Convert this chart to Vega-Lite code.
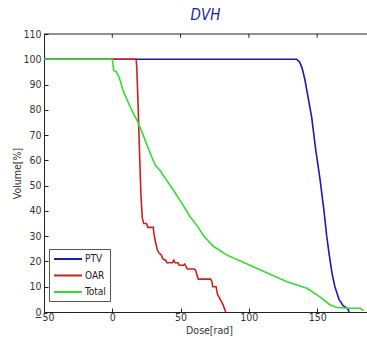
{
  "$schema": "https://vega.github.io/schema/vega-lite/v6.json",
  "autosize": {"type": "none"},
  "width": 323,
  "height": 278,
  "padding": {"left": 44, "top": 34, "right": 0, "bottom": 29},
  "background": "white",
  "title": {"text": "DVH", "color": "#1c1ca0", "font": "DejaVu Sans Condensed, Liberation Sans", "fontSize": 15, "fontStyle": "italic", "fontWeight": "normal", "anchor": "middle", "offset": 6},
  "config": {
    "view": {"stroke": null},
    "axis": {"labelFont": "DejaVu Sans Condensed, Liberation Sans", "titleFont": "DejaVu Sans Condensed, Liberation Sans", "labelFontSize": 10.5, "titleFontSize": 10.5, "titleFontWeight": "normal", "labelColor": "#333", "titleColor": "#333", "domainColor": "#222", "tickColor": "#222", "grid": false, "labelOverlap": false}
  },
  "data": {"values": [
    {"s": "PTV", "x": -50, "y": 100}, {"s": "PTV", "x": 135, "y": 100}, {"s": "PTV", "x": 137, "y": 99}, {"s": "PTV", "x": 139, "y": 96.5}, {"s": "PTV", "x": 141, "y": 92}, {"s": "PTV", "x": 143, "y": 86}, {"s": "PTV", "x": 146, "y": 77}, {"s": "PTV", "x": 149, "y": 64}, {"s": "PTV", "x": 152, "y": 53}, {"s": "PTV", "x": 155, "y": 40}, {"s": "PTV", "x": 157, "y": 30}, {"s": "PTV", "x": 159, "y": 22}, {"s": "PTV", "x": 161, "y": 15}, {"s": "PTV", "x": 163, "y": 10}, {"s": "PTV", "x": 166, "y": 5}, {"s": "PTV", "x": 169, "y": 2.5}, {"s": "PTV", "x": 172, "y": 1.5}, {"s": "PTV", "x": 173.5, "y": 0},
    {"s": "OAR", "x": -50, "y": 100}, {"s": "OAR", "x": 17.5, "y": 100}, {"s": "OAR", "x": 18, "y": 96}, {"s": "OAR", "x": 19, "y": 80}, {"s": "OAR", "x": 20, "y": 62}, {"s": "OAR", "x": 21, "y": 46}, {"s": "OAR", "x": 22, "y": 37}, {"s": "OAR", "x": 23, "y": 35}, {"s": "OAR", "x": 25, "y": 35}, {"s": "OAR", "x": 26, "y": 33.5}, {"s": "OAR", "x": 30, "y": 33.5}, {"s": "OAR", "x": 30.5, "y": 31}, {"s": "OAR", "x": 31.5, "y": 28}, {"s": "OAR", "x": 33, "y": 24.5}, {"s": "OAR", "x": 34, "y": 23.5}, {"s": "OAR", "x": 36, "y": 22.5}, {"s": "OAR", "x": 37, "y": 21}, {"s": "OAR", "x": 39, "y": 20.5}, {"s": "OAR", "x": 40, "y": 19.5}, {"s": "OAR", "x": 44, "y": 19.5}, {"s": "OAR", "x": 45, "y": 20.5}, {"s": "OAR", "x": 46, "y": 19.5}, {"s": "OAR", "x": 48, "y": 19.5}, {"s": "OAR", "x": 49, "y": 18.5}, {"s": "OAR", "x": 52, "y": 18.5}, {"s": "OAR", "x": 53, "y": 19}, {"s": "OAR", "x": 54, "y": 18}, {"s": "OAR", "x": 55, "y": 17}, {"s": "OAR", "x": 60, "y": 17}, {"s": "OAR", "x": 61, "y": 16.5}, {"s": "OAR", "x": 62, "y": 14.5}, {"s": "OAR", "x": 63, "y": 13}, {"s": "OAR", "x": 72, "y": 13}, {"s": "OAR", "x": 73, "y": 12}, {"s": "OAR", "x": 73.5, "y": 10}, {"s": "OAR", "x": 76, "y": 10}, {"s": "OAR", "x": 77, "y": 7}, {"s": "OAR", "x": 79, "y": 5}, {"s": "OAR", "x": 81, "y": 3}, {"s": "OAR", "x": 83, "y": 0},
    {"s": "Total", "x": -50, "y": 100}, {"s": "Total", "x": 0, "y": 100}, {"s": "Total", "x": 1, "y": 95.6}, {"s": "Total", "x": 3, "y": 95}, {"s": "Total", "x": 5, "y": 93}, {"s": "Total", "x": 8, "y": 87.5}, {"s": "Total", "x": 12, "y": 82.5}, {"s": "Total", "x": 15.5, "y": 78.5}, {"s": "Total", "x": 18, "y": 76}, {"s": "Total", "x": 23, "y": 69.5}, {"s": "Total", "x": 28, "y": 62.5}, {"s": "Total", "x": 31.5, "y": 58}, {"s": "Total", "x": 35, "y": 56}, {"s": "Total", "x": 40, "y": 52}, {"s": "Total", "x": 45, "y": 48}, {"s": "Total", "x": 51, "y": 43}, {"s": "Total", "x": 57, "y": 37.7}, {"s": "Total", "x": 63, "y": 33.5}, {"s": "Total", "x": 67, "y": 30}, {"s": "Total", "x": 74, "y": 26}, {"s": "Total", "x": 84, "y": 22.5}, {"s": "Total", "x": 98.6, "y": 19}, {"s": "Total", "x": 113, "y": 15.5}, {"s": "Total", "x": 128, "y": 12}, {"s": "Total", "x": 142.5, "y": 9.4}, {"s": "Total", "x": 152, "y": 6}, {"s": "Total", "x": 159.5, "y": 2.8}, {"s": "Total", "x": 164.5, "y": 1.8}, {"s": "Total", "x": 172, "y": 1.5}, {"s": "Total", "x": 181.5, "y": 1.5}, {"s": "Total", "x": 184, "y": 0.5}
  ]},
  "layer": [
    {
      "mark": {"type": "line", "strokeWidth": 1.6, "clip": true},
      "encoding": {
        "x": {"field": "x", "type": "quantitative", "scale": {"domain": [-50, 186.5], "nice": false, "zero": false},
          "axis": {"values": [-50, 0, 50, 100, 150], "tickSize": -4, "labelPadding": 4, "title": "Dose[rad]", "titleX": 165, "titlePadding": 3, "labelFlush": false, "labelOverlap": false}},
        "y": {"field": "y", "type": "quantitative", "scale": {"domain": [0, 110], "nice": false},
          "axis": {"values": [0, 10, 20, 30, 40, 50, 60, 70, 80, 90, 100, 110], "tickSize": -4, "labelPadding": 7, "title": "Volume[%]", "titlePadding": 0, "labelOverlap": false}},
        "color": {"field": "s", "type": "nominal", "sort": ["PTV", "OAR", "Total"],
          "scale": {"domain": ["PTV", "OAR", "Total"], "range": ["#1c1ca8", "#cc2020", "#33dd33"]},
          "legend": {"title": null, "orient": "none", "legendX": 5, "legendY": 215, "symbolType": "M-1,0H4.6", "symbolSize": 100, "symbolStrokeWidth": 2, "labelFont": "DejaVu Sans Condensed, Liberation Sans", "labelFontSize": 10, "labelColor": "#222", "fillColor": "white", "strokeColor": "#555", "padding": 4, "rowPadding": 5.5, "labelOffset": 20}},
        "order": {"field": "s", "type": "nominal"}
      }
    },
    {
      "mark": {"type": "rule", "color": "#222", "strokeWidth": 1},
      "data": {"values": [{"top": 110}]},
      "encoding": {
        "y": {"field": "top", "type": "quantitative",
          "axis": {"values": [0, 10, 20, 30, 40, 50, 60, 70, 80, 90, 100, 110], "tickSize": -4, "labelPadding": 7, "title": "Volume[%]", "titlePadding": 0, "labelOverlap": false}}
      }
    },
    {
      "mark": {"type": "rule", "color": "#222", "strokeWidth": 1},
      "data": {"values": [{"t": 0}, {"t": 50}, {"t": 100}, {"t": 150}]},
      "encoding": {
        "x": {"field": "t", "type": "quantitative",
          "axis": {"values": [-50, 0, 50, 100, 150], "tickSize": -4, "labelPadding": 4, "title": "Dose[rad]", "titleX": 165, "titlePadding": 3, "labelFlush": false, "labelOverlap": false}},
        "y": {"datum": 110, "type": "quantitative",
          "axis": {"values": [0, 10, 20, 30, 40, 50, 60, 70, 80, 90, 100, 110], "tickSize": -4, "labelPadding": 7, "title": "Volume[%]", "titlePadding": 0, "labelOverlap": false}},
        "y2": {"datum": 108.5}
      }
    }
  ]
}
